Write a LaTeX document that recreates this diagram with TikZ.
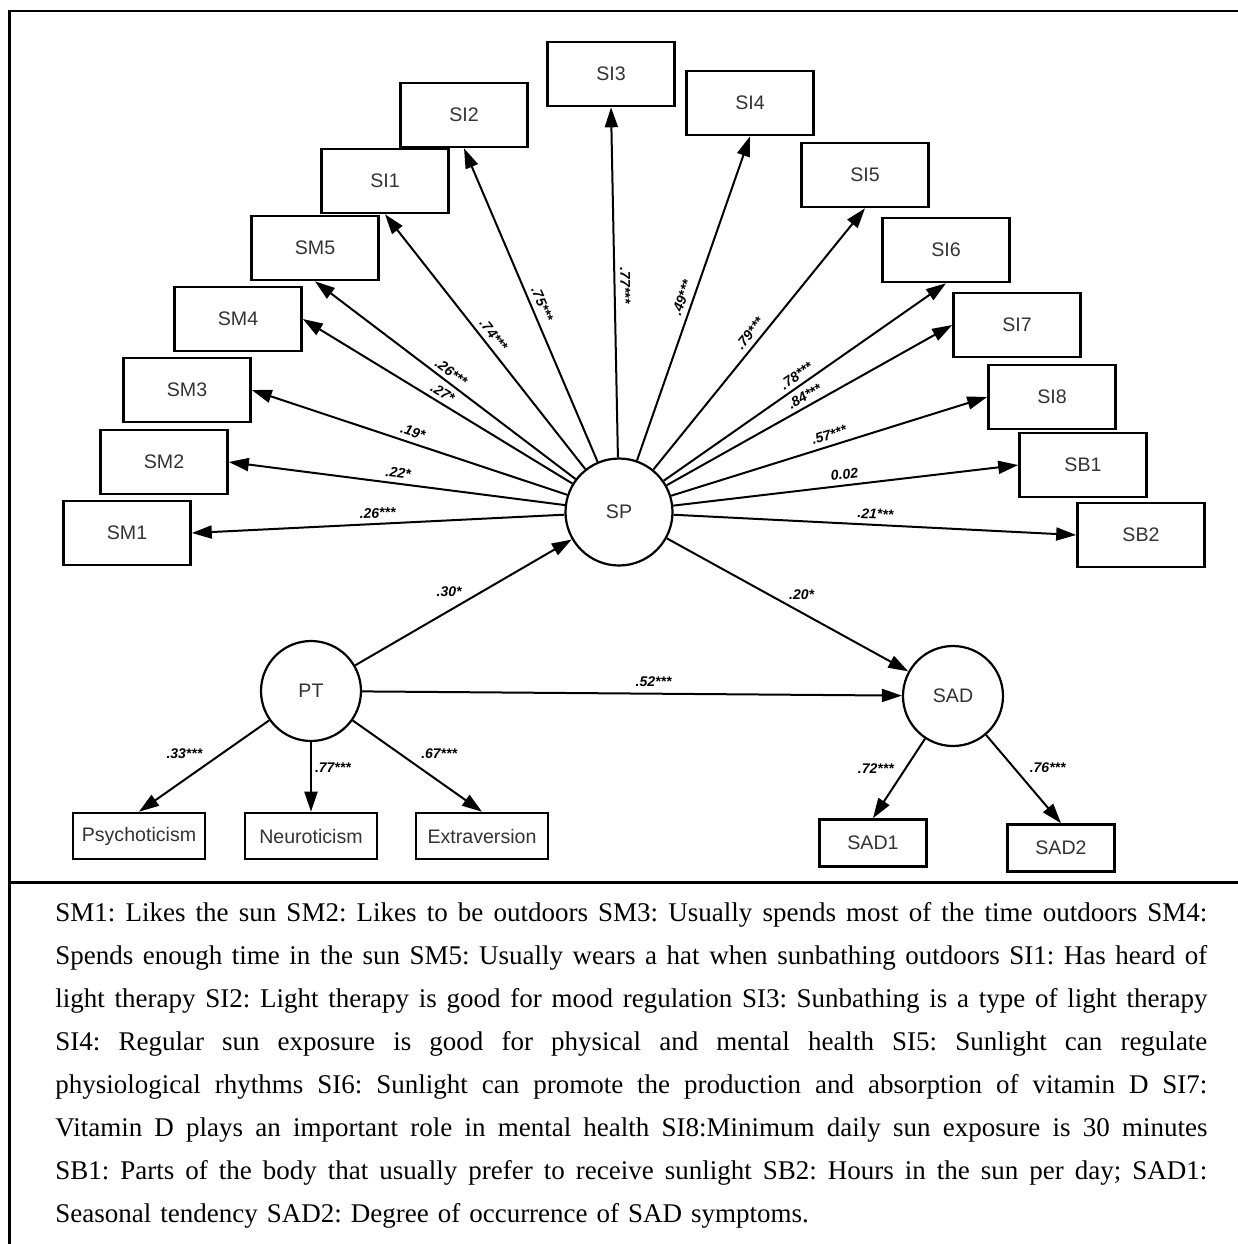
\documentclass[tikz,border=0pt]{standalone}
\usepackage{fontspec}
\setmainfont{Liberation Serif}
\setsansfont{Liberation Sans}
\usetikzlibrary{arrows.meta}
\newcommand{\jline}[1]{{\spaceskip=0.25em plus 3em minus 0.08em\relax\hbox to 576pt{#1}}}
\begin{document}
\begin{tikzpicture}[x=0.5pt,y=-0.5pt,
  obox/.style={draw,line width=1.3pt,minimum width=63.5pt,minimum height=32pt,inner sep=0pt,
    font=\sffamily\fontsize{9.8}{11}\selectfont,text=black!80},
  pbox/.style={obox,minimum width=66pt,minimum height=23pt},
  sbox/.style={obox,minimum width=53.5pt,minimum height=23.5pt},
  lat/.style={circle,draw,line width=1.1pt,inner sep=0pt,minimum size=50pt,
    font=\sffamily\fontsize{9.8}{11}\selectfont,text=black!80},
  arr/.style={line width=1pt,-{Triangle[length=10pt,width=6.5pt]}},
  lab/.style={font=\sffamily\bfseries\itshape\fontsize{7}{8}\selectfont,inner sep=1.5pt},
]
\useasboundingbox (0,0) rectangle (1238,1244);
% frame
\draw[line width=1.4pt] (1238,11) -- (9.5,11) -- (9.5,1244);
\draw[line width=1.4pt] (9.5,882.5) -- (1238,882.5);

% latent variables
\node[lat,minimum size=53.5pt] (SP) at (619,512) {SP};
\node[lat] (PT) at (311,691) {PT};
\node[lat] (SAD) at (953,696) {SAD};

% indicator boxes
\node[obox] (SI3) at (611,74) {SI3};
\node[obox] (SI2) at (464,115) {SI2};
\node[obox] (SI4) at (750,103) {SI4};
\node[obox] (SI1) at (385,181) {SI1};
\node[obox] (SI5) at (865,175) {SI5};
\node[obox] (SM5) at (315,248) {SM5};
\node[obox] (SI6) at (946,250) {SI6};
\node[obox] (SM4) at (238,319) {SM4};
\node[obox] (SI7) at (1017,325) {SI7};
\node[obox] (SM3) at (187,390) {SM3};
\node[obox] (SI8) at (1052,397) {SI8};
\node[obox] (SM2) at (164,462) {SM2};
\node[obox] (SB1) at (1083,465) {SB1};
\node[obox] (SM1) at (127,533) {SM1};
\node[obox] (SB2) at (1141,535) {SB2};

\node[pbox] (Psy) at (139,836) {Psychoticism};
\node[pbox] (Neu) at (311,836) {Neuroticism};
\node[pbox] (Ext) at (482,836) {Extraversion};
\node[sbox] (SAD1) at (873,843) {SAD1};
\node[sbox] (SAD2) at (1061,848) {SAD2};

% fan from SP
\draw[arr] (SP) -- node[lab,pos=0.5,sloped,above=1pt] {.26***} (SM1.east);
\draw[arr] (SP) -- node[lab,pos=0.5,sloped,above=1pt] {.22*} (SM2.east);
\draw[arr] (SP) -- node[lab,pos=0.5,sloped,above=1pt] {.19*} (SM3.east);
\draw[arr] (SP) -- node[lab,pos=0.5,sloped,above=0.5pt] {.27*} (SM4.east);
\draw[arr] (SP) -- node[lab,pos=0.5,sloped,above=0.5pt] {.26***} (SM5.south);
\draw[arr] (SP) -- node[lab,pos=0.5,sloped,above=1pt] {.74***} (SI1.south);
\draw[arr] (SP) -- node[lab,pos=0.49,sloped,above=1pt] {.75***} (SI2.south);
\draw[arr] (SP) -- node[lab,pos=0.49,sloped,above=1pt] {.77***} (SI3.south);
\draw[arr] (SP) -- node[lab,pos=0.49,sloped,above=1pt] {.49***} (SI4.south);
\draw[arr] (SP) -- node[lab,pos=0.495,sloped,above=1pt] {.79***} (SI5.south);
\draw[arr] (SP) -- node[lab,pos=0.49,sloped,above=0.5pt] {.78***} (SI6.south);
\draw[arr] (SP) -- node[lab,pos=0.5,sloped,above=0.5pt] {.84***} (SI7.west);
\draw[arr] (SP) -- node[lab,pos=0.51,sloped,above=1pt] {.57***} (SI8.west);
\draw[arr] (SP) -- node[lab,pos=0.5,sloped,above=1pt] {0.02} (SB1.west);
\draw[arr] (SP) -- node[lab,pos=0.5,sloped,above=1pt] {.21***} (SB2.west);

% structural paths
\draw[arr] (PT) -- node[lab,pos=0.51,above left=0pt] {.30*} (SP);
\draw[arr] (SP) -- node[lab,pos=0.49,above right=0pt] {.20*} (SAD);
\draw[arr] (PT) -- node[lab,pos=0.54,above=1.5pt] {.52***} (SAD);

% measurement of PT and SAD
\draw[arr] (PT) -- node[lab,pos=0.36,left=8pt] {.33***} (Psy.north);
\draw[arr] (PT) -- node[lab,pos=0.37,right=0pt] {.77***} (Neu.north);
\draw[arr] (PT) -- node[lab,pos=0.36,right=9pt] {.67***} (Ext.north);
\draw[arr] (SAD) -- node[lab,pos=0.37,left=4pt] {.72***} (SAD1.north);
\draw[arr] (SAD) -- node[lab,pos=0.37,right=6pt] {.76***} (SAD2.north);

% legend
\node[anchor=base west,inner sep=0pt,text width=576pt,
      font=\fontsize{13.5}{21.5}\selectfont\frenchspacing] (legend) at (55,921.7) {%
\jline{SM1: Likes the sun SM2: Likes to be outdoors SM3: Usually spends most of the time outdoors SM4:}
\jline{Spends enough time in the sun SM5: Usually wears a hat when sunbathing outdoors SI1: Has heard of}
\jline{light therapy SI2: Light therapy is good for mood regulation SI3: Sunbathing is a type of light therapy}
\jline{SI4: Regular sun exposure is good for physical and mental health SI5: Sunlight can regulate}
\jline{physiological rhythms SI6: Sunlight can promote the production and absorption of vitamin D SI7:}
\jline{Vitamin D plays an important role in mental health SI8:Minimum daily sun exposure is 30 minutes}
\jline{SB1: Parts of the body that usually prefer to receive sunlight SB2: Hours in the sun per day; SAD1:}
\hbox{Seasonal tendency SAD2: Degree of occurrence of SAD symptoms.}};
\end{tikzpicture}
\end{document}
